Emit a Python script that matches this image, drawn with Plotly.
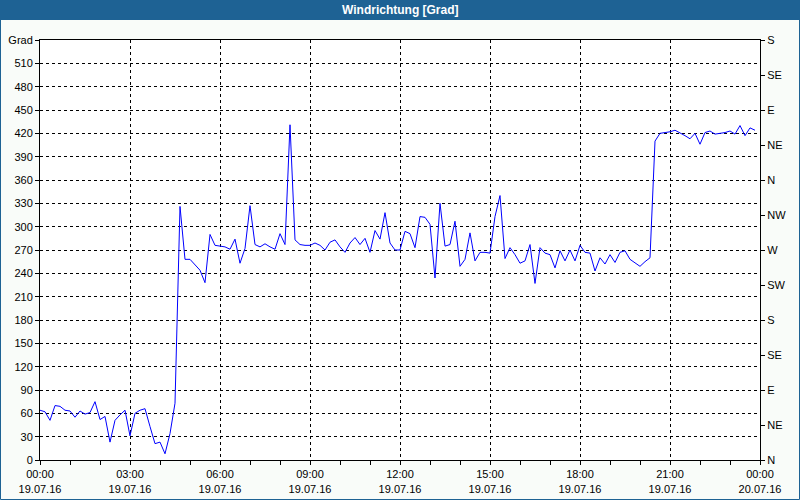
import plotly.graph_objects as go
import pandas as pd

# Wind direction in degrees, every 10 minutes, 19.07.16 00:00 .. 23:50
values = [
    64, 62, 51, 70, 69, 64, 63, 55, 63, 59, 61, 75, 52, 56, 23, 51, 58, 64,   # 00:00-02:50
    31, 60, 64, 66, 43, 21, 23, 8, 34, 73, 326, 258, 258, 251, 244, 228, 290, 276,  # 03:00-05:50
    275, 274, 271, 284, 253, 272, 327, 277, 274, 278, 274, 271, 291, 277, 431, 283, 277, 276,  # 06:00-08:50
    276, 279, 276, 270, 280, 283, 274, 267, 279, 286, 277, 285, 267, 295, 284, 318, 279, 270,  # 09:00-11:50
    270, 294, 291, 273, 313, 312, 303, 234, 330, 275, 277, 307, 249, 258, 292, 256, 267, 267,  # 12:00-14:50
    266, 313, 340, 259, 273, 264, 253, 256, 277, 227, 273, 266, 264, 247, 269, 256, 270, 256,  # 15:00-17:50
    276, 267, 266, 243, 260, 252, 264, 254, 267, 269, 258, 254, 249, 255, 260, 410, 420, 421,  # 18:00-20:50
    422, 424, 421, 417, 413, 420, 406, 421, 423, 419, 420, 421, 423, 419, 430, 417, 427, 424,  # 21:00-23:50
]
start_time = "2016-07-19 00:00"
end_time = "2016-07-20 00:00"
times = pd.date_range(start_time, periods=len(values), freq="10min")

left_tickvals = list(range(0, 541, 30))
left_ticktext = [str(v) for v in left_tickvals[:-1]] + ["Grad"]
right_tickvals = list(range(0, 541, 45))
right_ticktext = ["N", "NE", "E", "SE", "S", "SW", "W", "NW", "N", "NE", "E", "SE", "S"]
title_text = "Windrichtung [Grad]"

FONT = "Liberation Sans, Arial, sans-serif"
BAR = "#1E6294"

fig = go.Figure()
fig.add_trace(go.Scatter(x=times, y=values, mode="lines",
                         line=dict(color="#0000FF", width=1), showlegend=False,
                         hoverinfo="x+y"))
# carrier trace for the compass axis on the right (invisible)
fig.add_trace(go.Scatter(x=times, y=values, mode="lines", yaxis="y2",
                         line=dict(color="rgba(0,0,0,0)", width=0), showlegend=False,
                         hoverinfo="skip"))

fig.update_layout(
    width=800, height=500,
    margin=dict(l=40, r=40, t=40, b=40),
    paper_bgcolor="#F9FCF9",
    plot_bgcolor="#FFFFFF",
    font=dict(family=FONT, size=11, color="black"),
    xaxis=dict(
        type="date", automargin=False,
        range=[start_time, end_time],
        tick0=start_time, dtick=3 * 3600 * 1000,
        tickformat="%H:%M<br>%d.%m.%y",
        ticks="outside", ticklen=4, tickcolor="black",
        minor=dict(dtick=3600 * 1000, ticks="outside", ticklen=4, tickcolor="black", showgrid=False),
        showgrid=True, gridcolor="black", griddash="3px,3px", gridwidth=1,
        showline=True, linecolor="black", linewidth=1, mirror=True,
        zeroline=False,
    ),
    yaxis=dict(
        range=[0, 540], automargin=False,
        tickmode="array", tickvals=left_tickvals, ticktext=left_ticktext,
        ticks="outside", ticklen=4, tickcolor="black",
        showgrid=True, gridcolor="black", griddash="3px,3px", gridwidth=1,
        showline=True, linecolor="black", linewidth=1, mirror=True,
        zeroline=False,
    ),
    yaxis2=dict(
        overlaying="y", side="right", automargin=False,
        range=[0, 540],
        tickmode="array", tickvals=right_tickvals, ticktext=right_ticktext,
        ticks="outside", ticklen=4, tickcolor="black",
        showgrid=False, zeroline=False,
        showline=True, linecolor="black", linewidth=1,
    ),
    shapes=[
        # title bar
        dict(type="rect", xref="paper", yref="paper",
             x0=-40 / 720, x1=1 + 40 / 720, y0=1 + 20 / 420, y1=1 + 40 / 420,
             fillcolor=BAR, line=dict(width=0), layer="below"),
        # outer frame
        dict(type="rect", xref="paper", yref="paper",
             x0=-39.5 / 720, x1=1 + 39.5 / 720, y0=-39.5 / 420, y1=1 + 39.5 / 420,
             fillcolor="rgba(0,0,0,0)", line=dict(color=BAR, width=1)),
    ],
    annotations=[
        dict(text="<b>" + title_text + "</b>", xref="paper", yref="paper",
             x=0.5, y=1 + 30 / 420, xanchor="center", yanchor="middle",
             showarrow=False, font=dict(family=FONT, size=12, color="white")),
    ],
)

fig.write_html("out.html", config={"displayModeBar": False},
               post_script="document.body.style.margin='0';")
